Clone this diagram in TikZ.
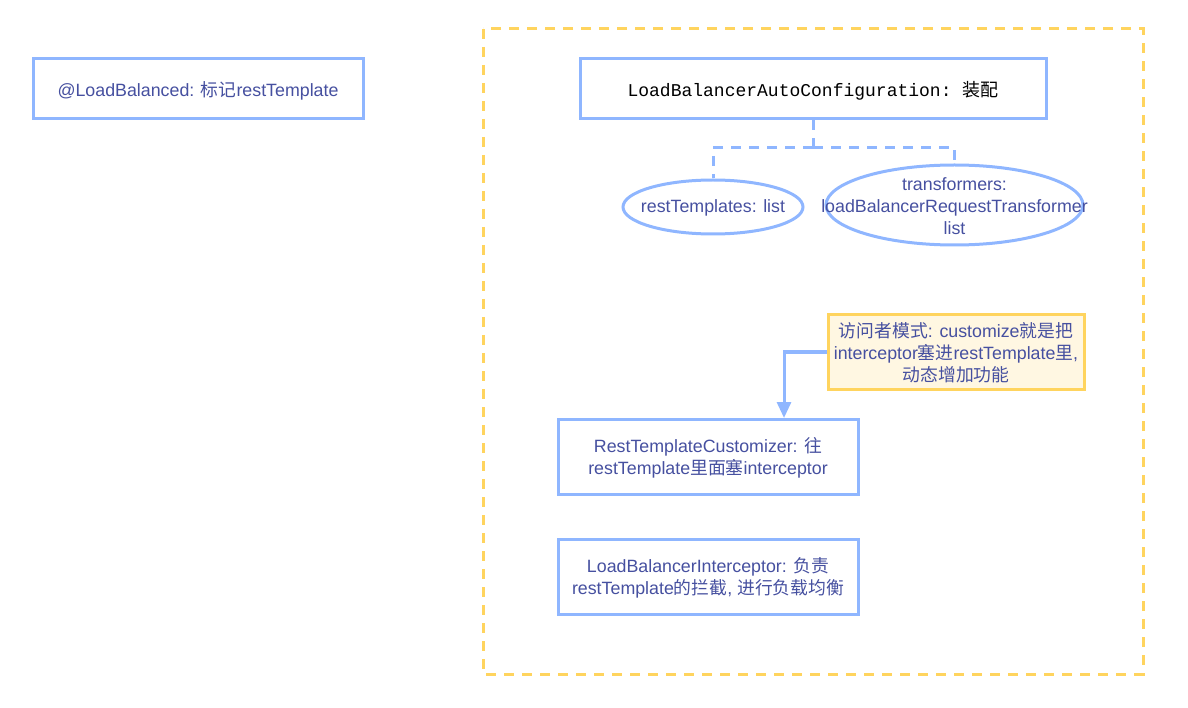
\documentclass[tikz,border=0pt]{standalone}
\usepackage{fontspec}
\setmainfont{Liberation Sans}
\setmonofont{Liberation Mono}
\newfontfamily\cjk{Noto Sans CJK SC}
\usetikzlibrary{shapes.geometric,arrows.meta}
\definecolor{boxblue}{HTML}{8FB6FF}
\definecolor{txt}{HTML}{4650A0}
\definecolor{frameyel}{HTML}{FFD45E}
\definecolor{notefill}{HTML}{FFF7E2}
\newcommand{\zh}[1]{{\cjk #1}}
\tikzset{
  x=1pt,y=-1pt,
  bx/.style={draw=boxblue,line width=3pt,fill=white,inner sep=0pt,align=center,text=txt,font=\fontsize{17.8}{22}\selectfont},
  ell/.style={ellipse,draw=boxblue,line width=3pt,inner sep=0pt},
  lbl/.style={inner sep=0pt,align=center,text=txt,font=\fontsize{17.8}{22}\selectfont},
  conn/.style={draw=boxblue,line width=3pt,dash pattern=on 10pt off 8pt},
  arr/.style={draw=boxblue,line width=3pt,-{Triangle[length=16pt,width=14pt]}},
}
\begin{document}
\begin{tikzpicture}
\useasboundingbox (0,0) rectangle (1188,708);
\draw[frameyel,line width=3pt,dash pattern=on 10pt off 8pt] (483,29) rectangle (1143,674);
\node[bx,minimum width=330pt,minimum height=60pt] (lb) at (198,89) {};
\node[lbl] (lbl1) at ([yshift=-2pt]lb.center) {@LoadBalanced: \zh{标记}restTemplate};
\node[bx,minimum width=466pt,minimum height=60pt] (auto) at (813,89) {};
\node[lbl,text=black,font=\fontsize{18}{22}\ttfamily] (autol) at ([yshift=-2pt]auto.center) {LoadBalancerAutoConfiguration: \zh{装配}};
\node[ell,minimum width=180pt,minimum height=54pt] (rt) at (713,207) {};
\node[lbl] (rtl) at ([yshift=-1pt]rt.center) {restTemplates: list};
\node[ell,minimum width=257pt,minimum height=80pt] (tr) at (954.5,205) {};
\node[lbl] (trl) at ([yshift=-1pt]tr.center) {transformers:\\loadBalancerRequestTransformer\\list};
\coordinate (j) at (813,148);
\draw[conn] (auto.south) -- (j);
\draw[conn] (j) -| (rt.north);
\draw[conn] (j) -| (tr.north);
\node[bx,draw=frameyel,fill=notefill,minimum width=256pt,minimum height=74pt] (note) at (956,352) {};
\node[lbl] (notel) at ([yshift=-1pt]note.center) {\zh{访问者模式}: customize\zh{就是把}\\interceptor\zh{塞进}restTemplate\zh{里},\\\zh{动态增加功能}};
\node[bx,minimum width=300pt,minimum height=75pt] (cust) at (708,456.5) {};
\node[lbl] (custl) at ([yshift=-1pt]cust.center) {RestTemplateCustomizer: \zh{往}\\restTemplate\zh{里面塞}interceptor};
\node[bx,minimum width=300pt,minimum height=75pt] (inter) at (708,576.5) {};
\node[lbl] (interl) at ([yshift=-1pt]inter.center) {LoadBalancerInterceptor: \zh{负责}\\restTemplate\zh{的拦截}, \zh{进行负载均衡}};
\coordinate (tip) at (784,418);
\draw[arr] (note.west) -| (tip);
\end{tikzpicture}
\end{document}
